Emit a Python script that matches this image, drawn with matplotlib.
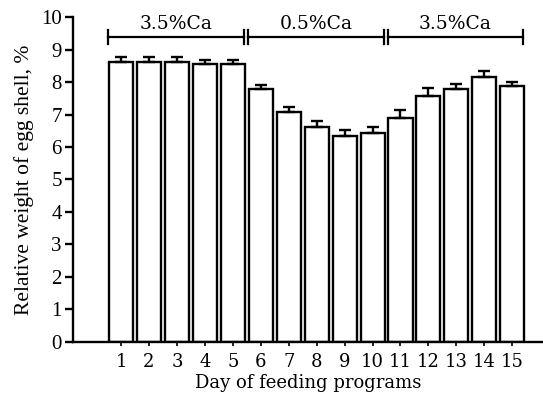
import numpy as np
import matplotlib
matplotlib.use("Agg")
import matplotlib.pyplot as plt

# data
days = np.arange(1, 16)
shell_pct = [8.62, 8.62, 8.62, 8.55, 8.55, 7.78, 7.08, 6.60, 6.33, 6.42,
             6.88, 7.58, 7.78, 8.14, 7.89]
shell_err = [0.14, 0.14, 0.14, 0.14, 0.14, 0.14, 0.14, 0.19, 0.18, 0.20,
             0.26, 0.24, 0.17, 0.20, 0.12]
tick_labels = [str(d) for d in days]
groups = ["3.5%Ca", "0.5%Ca", "3.5%Ca"]
group_days = [(1, 5), (6, 10), (11, 15)]

serif_x = "DejaVu Serif"
serif_y = "Liberation Serif"

fig = plt.figure(figsize=(5.43, 4.03), dpi=100)
ax = fig.add_axes([0.1344, 0.1514, 0.8656, 0.8064])

width = 0.86
ax.bar(days, shell_pct, width=width, color="white", edgecolor="black",
       linewidth=1.7, zorder=2)
ax.errorbar(days, shell_pct, yerr=[np.zeros(len(shell_err)), shell_err],
            fmt="none", ecolor="black", elinewidth=1.7, capsize=4,
            capthick=1.7, zorder=3)

# brackets showing the feeding programs
y_br = 9.39
for (d0, d1), name in zip(group_days, groups):
    x0 = d0 - width / 2 - 0.03
    x1 = d1 + width / 2 - 0.03
    ax.plot([x0, x1], [y_br, y_br], color="black", lw=1.6, clip_on=False)
    ax.plot([x0, x0], [y_br - 0.22, y_br + 0.22], color="black", lw=1.6, clip_on=False)
    ax.plot([x1, x1], [y_br - 0.22, y_br + 0.22], color="black", lw=1.6, clip_on=False)
    ax.text((x0 + x1) / 2, 9.8, name, ha="center", va="center",
            fontsize=13.5, family=serif_x)

ax.set_xlim(-0.72, 16.1)
ax.set_ylim(0, 10)
ax.set_yticks(np.arange(0, 11, 1))
ax.set_xticks(days)
ax.set_xticklabels(tick_labels, family=serif_x, fontsize=13)
for lab in ax.get_yticklabels():
    lab.set_family(serif_y)
    lab.set_fontsize(15)

ax.spines["top"].set_visible(False)
ax.spines["right"].set_visible(False)
ax.spines["left"].set_linewidth(1.7)
ax.spines["bottom"].set_linewidth(1.7)
ax.tick_params(axis="y", direction="out", length=6, width=1.7, pad=2)
ax.tick_params(axis="x", direction="out", length=3, width=1.2, pad=5)

ax.set_xlabel("Day of feeding programs", family=serif_x, fontsize=13, labelpad=2)
ax.set_ylabel("Relative weight of egg shell, %", family=serif_y, fontsize=15.5, labelpad=5)

fig.savefig("out.png", dpi=100)
